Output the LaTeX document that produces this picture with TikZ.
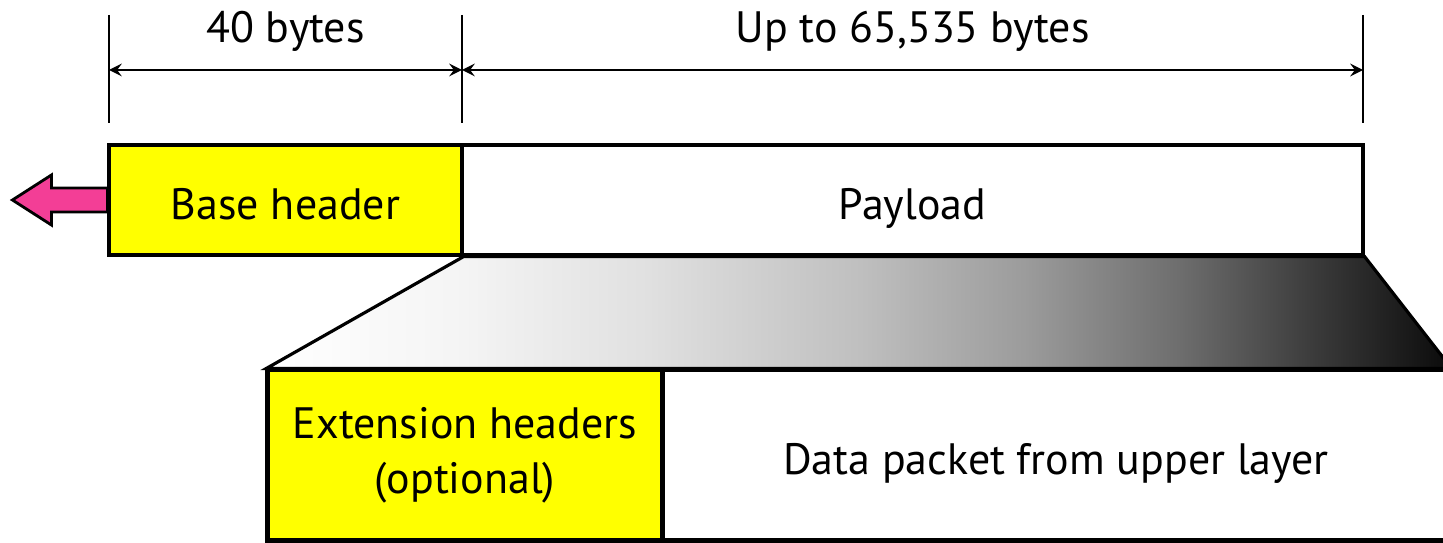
\documentclass[tikz,border=0pt]{standalone}
\usepackage{fontspec}
\setmainfont{PT Sans}
\usepackage{tikz}
\usepackage{color}
\definecolor{hdryellow}{RGB}{255,255,0}
\definecolor{arrowpink}{RGB}{243,62,150}
\pgfdeclarehorizontalshading{fadeout}{100bp}{color(0bp)=(white); color(25bp)=(white); color(33bp)=(black!4); color(41bp)=(black!12); color(50bp)=(black!25); color(57bp)=(black!39); color(63.5bp)=(black!57); color(69.5bp)=(black!78); color(75bp)=(black!96); color(100bp)=(black!96)}

\begin{document}
\begin{tikzpicture}[
		box/.style={draw, rectangle, line width=0.9pt, inner sep=0pt},
		hdr/.style={box, fill=hdryellow},
		pld/.style={box, fill=white},
		oneline/.style={text height=1.3em, text depth=0.2em},
		dim/.style={line width=0.6pt},
		lbl/.style={inner sep=0pt},
		font=\fontsize{12.5}{15.6}\selectfont
	]
				\useasboundingbox (0,0) rectangle (14.43,-5.43);
				% lower layer: extension headers and upper-layer data
				\node[hdr, minimum width=3.94cm, minimum height=1.70cm, align=center] (EH)at(4.65, -4.55) {Extension headers\\(optional)};
				\node[pld, oneline, minimum width=7.88cm, minimum height=1.70cm] (DP)at(10.56, -4.55) {Data packet from upper layer};
				\node[hdr, oneline, minimum width=3.53cm, minimum height=1.10cm] (BH)at(2.855, -2.00) {Base header};
				\node[pld, oneline, minimum width=9.01cm, minimum height=1.10cm] (PL)at(9.125, -2.00) {Payload};
				\shade[draw, line width=0.9pt, shading=fadeout] (BH.south east) -- (PL.south east) -- (DP.north east) -- (EH.north west) -- cycle;
				\draw[box] (EH.north west) rectangle (DP.south east);
				\draw[box] (EH.north east) -- (EH.south east);
				% pink arrow out of the base header
				\draw[line width=0.8pt, fill=arrowpink] (BH.west) ++(0,0.12) -- ++(-0.56,0) -- ++(0,0.13) -- ++(-0.39,-0.25) -- ++(0.39,-0.25) -- ++(0,0.13) -- ++(0.56,0) -- cycle;
				% size marks
				\coordinate (T1)at(1.09, -0.15);
				\coordinate (T2)at(4.62, -0.15);
				\coordinate (T3)at(13.63, -0.15);
				\coordinate (B1)at(1.09, -1.23);
				\coordinate (B2)at(4.62, -1.23);
				\coordinate (B3)at(13.63, -1.23);
				\coordinate (D1)at(1.09, -0.70);
				\coordinate (D2)at(4.62, -0.70);
				\coordinate (D3)at(13.63, -0.70);
				\draw[dim] (T1) -- (B1);
				\draw[dim] (T2) -- (B2);
				\draw[dim] (T3) -- (B3);
				\draw[dim, <->, >=stealth] (D1) -- (D2);
				\draw[dim, <->, >=stealth] (D2) -- (D3);
				\node[lbl] (L1)at(2.855, -0.31) {40 bytes};
				\node[lbl] (L2)at(9.125, -0.31) {Up to 65,535 bytes};
			\end{tikzpicture}
\end{document}
